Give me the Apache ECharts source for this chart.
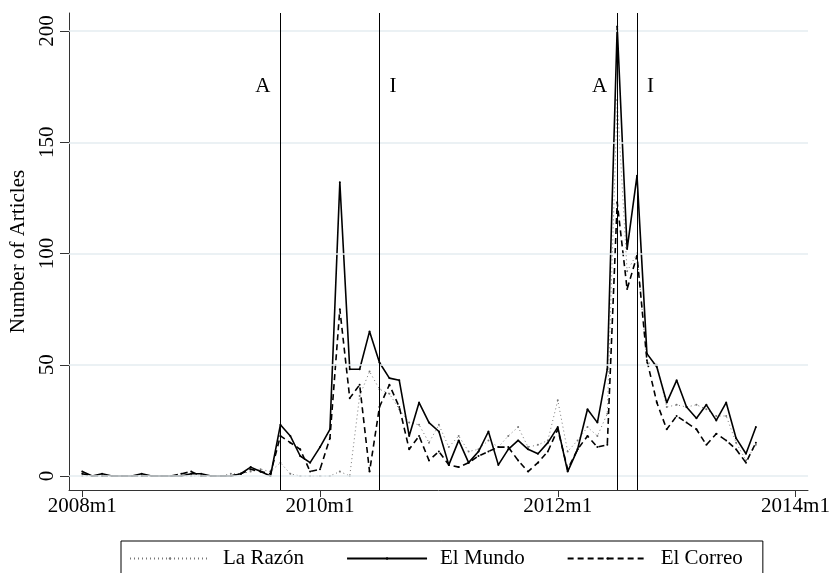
<!DOCTYPE html>
<html><head><meta charset="utf-8">
<script src="https://cdn.jsdelivr.net/npm/echarts@6/dist/echarts.min.js"></script>
<style>html,body{margin:0;padding:0;background:#fff}#c{width:831px;height:573px}</style>
</head><body><div id="c"></div>
<script>
// Tick positions (months since 2008m1) and labels
const xTicks = [0, 24, 48, 72];
const xTickLabels = ['2008m1', '2010m1', '2012m1', '2014m1'];
const yTicks = [0, 50, 100, 150, 200];

// Monthly article counts, 2008m1 .. 2013m9
const laRazon = [
  0,0,0,0,0,0,0,0,0,0,
  0,0,0,0,0,1,1,2,3,2,
  6,1,0,0,0,0,2,0,36,47,
  39,37,30,24,23,15,23,13,18,11,
  12,16,13,18,22,13,14,16,34,11,
  16,22,18,28,169,92,100,51,50,31,
  32,31,32,30,27,27,15,7,14
];
const elMundo = [
  2,0,1,0,0,0,1,0,0,0,
  0,1,1,0,0,0,1,4,2,0,
  23,18,9,6,13,21,132,48,48,65,
  51,44,43,18,33,24,20,5,16,6,
  11,20,5,12,16,12,10,15,22,2,
  12,30,24,48,202,102,135,55,49,33,
  43,31,26,32,25,33,17,10,22
];
const elCorreo = [
  1,0,0,0,0,0,0,0,0,0,
  1,2,0,0,0,0,1,3,2,1,
  18,15,12,2,3,17,75,35,41,2,
  31,41,31,12,18,7,11,5,4,6,
  9,11,13,13,7,2,6,11,21,3,
  12,18,13,14,123,84,99,52,33,21,
  27,24,21,14,19,16,12,6,15
];

// Event markers
const eventMonths = [20, 30, 54, 56];
const eventLabels = ['A', 'I', 'A', 'I'];
const eventLabelSide = ['left', 'right', 'left', 'right'];
const eventLabelLevel = 175;

const months = laRazon.map((_, i) => i);
const pair = arr => arr.map((v, i) => [months[i], v]);
const FONT = '"Liberation Serif", "Times New Roman", Times, serif';
const FS = 21;

const chart = echarts.init(document.getElementById('c'), null, {renderer: 'canvas'});
chart.setOption({
  animation: false,
  backgroundColor: '#fff',
  grid: {left: 69, right: 23, top: 13, bottom: 83, containLabel: false, outerBoundsMode: 'none'},
  xAxis: {
    type: 'value', min: -1.34, max: 73.26,
    axisLine: {onZero: false, lineStyle: {color: '#333', width: 1}},
    axisTick: {customValues: xTicks, length: 7, lineStyle: {color: '#333'}},
    axisLabel: {customValues: xTicks, formatter: v => xTickLabels[xTicks.indexOf(v)],
      fontFamily: FONT, fontSize: FS, color: '#000', margin: 6},
    splitLine: {show: false}
  },
  yAxis: {
    type: 'value', min: -6.29, max: 208.1,
    name: 'Number of Articles', nameLocation: 'middle', nameGap: 40,
    nameTextStyle: {fontFamily: FONT, fontSize: FS, color: '#000'},
    axisLine: {show: true, onZero: false, lineStyle: {color: '#333', width: 1}},
    axisTick: {show: true, customValues: yTicks, length: 9, lineStyle: {color: '#333'}},
    axisLabel: {customValues: yTicks, rotate: 90, fontFamily: FONT, fontSize: FS, color: '#000', margin: 11},
    splitLine: {show: false}
  },
  legend: {
    data: ['La Razón', 'El Mundo', 'El Correo'],
    left: 121, top: 541, orient: 'horizontal',
    itemWidth: 80, itemHeight: 3, itemGap: 42,
    padding: [7, 20, 14, 8],
    borderColor: '#000', borderWidth: 1,
    textStyle: {fontFamily: FONT, fontSize: FS, color: '#000', padding: [0, 0, 0, 8]}
  },
  series: [
    {
      name: 'grid', type: 'line', data: [], silent: true, z: 0,
      markLine: {silent: true, symbol: 'none', label: {show: false},
        lineStyle: {color: '#e4edf1', width: 1.5, type: 'solid'},
        data: yTicks.map(v => ({yAxis: v}))}
    },
    {
      name: 'La Razón', type: 'line', data: pair(laRazon), z: 2,
      symbol: 'circle', symbolSize: 2, showSymbol: true,
      lineStyle: {color: '#777', width: 1, type: [1, 3]}, itemStyle: {color: '#777'}
    },
    {
      name: 'El Correo', type: 'line', data: pair(elCorreo), z: 3,
      symbol: 'circle', symbolSize: 2, showSymbol: true,
      lineStyle: {color: '#000', width: 1.6, type: [6, 4]}, itemStyle: {color: '#000'}
    },
    {
      name: 'El Mundo', type: 'line', data: pair(elMundo), z: 4,
      symbol: 'circle', symbolSize: 2, showSymbol: true,
      lineStyle: {color: '#000', width: 1.6}, itemStyle: {color: '#000'},
      markLine: {silent: true, symbol: 'none', label: {show: false},
        lineStyle: {color: '#000', width: 1, type: 'solid'},
        data: eventMonths.map(m => ({xAxis: m}))},
      markPoint: {silent: true, symbol: 'circle', symbolSize: 0,
        label: {show: true, fontFamily: FONT, fontSize: FS, color: '#000', distance: 10},
        data: eventMonths.map((m, i) => ({coord: [m, eventLabelLevel], value: eventLabels[i],
          label: {position: eventLabelSide[i], formatter: eventLabels[i]}}))}
    }
  ]
});
</script></body></html>
